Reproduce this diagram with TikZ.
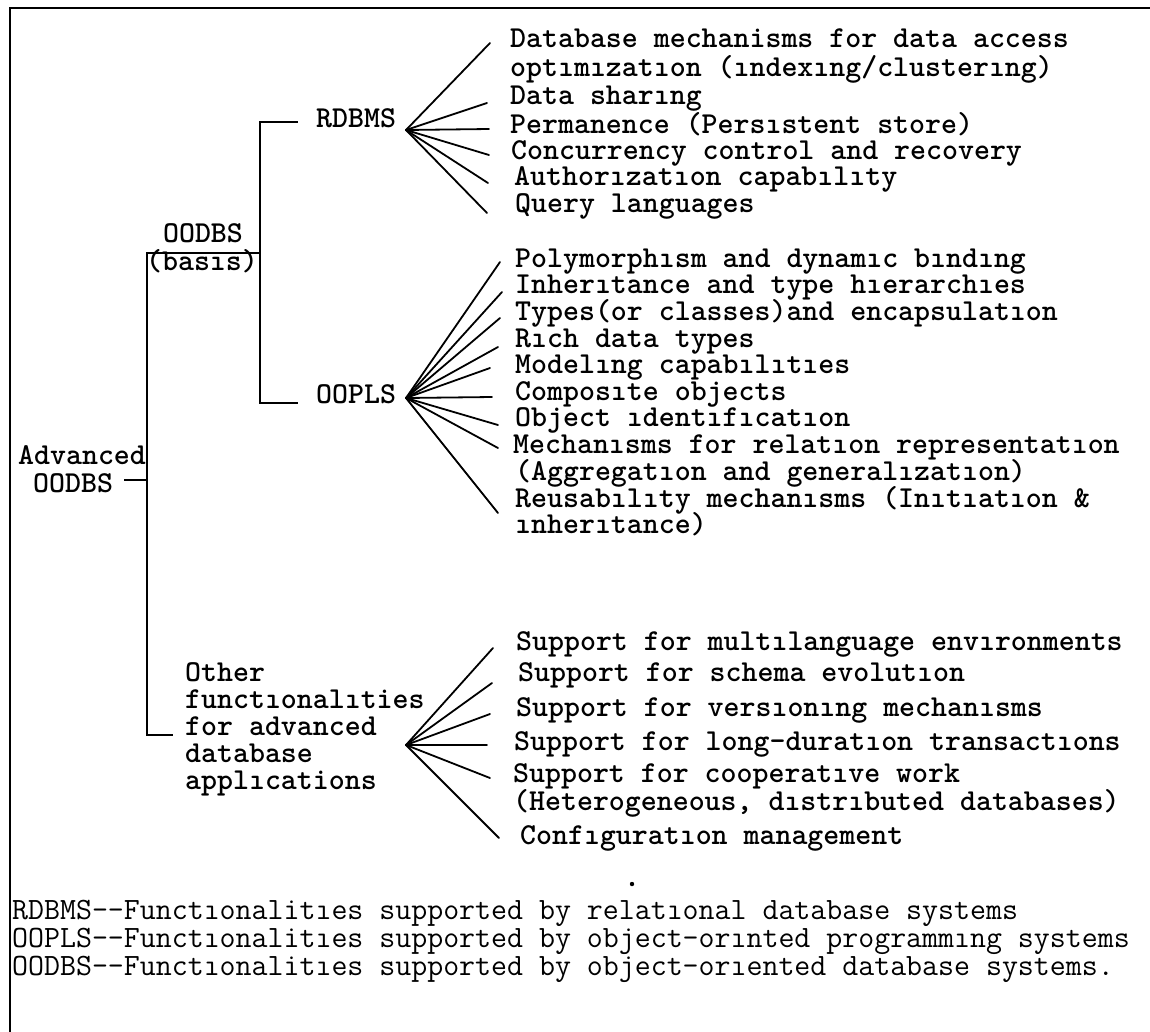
\documentclass[tikz,border=0pt]{standalone}
\usepackage{fontspec}
\newfontfamily\tw{Latin Modern Mono Light}
\newfontfamily\twl{Latin Modern Mono}
\begin{document}
\begin{tikzpicture}[x=1pt,y=-1pt,
  rule/.style={line width=1.8pt, line cap=rect},
  link/.style={line width=1.8pt, line cap=round},
  item/.style={anchor=mid west, inner sep=0pt, text height=0.6em, text depth=0.12em,
    font=\tw\bfseries\fontsize{30.4}{31}\selectfont},
  head/.style={item, anchor=mid},
  note/.style={anchor=mid west, inner sep=0pt, text height=0.6em, text depth=0.12em,
    font=\twl\fontsize{31}{31}\selectfont}]
\useasboundingbox (0,0) rectangle (1150,1031);
\fill[white] (0,0) rectangle (1150,1031);

% frame (top and left edges)
\coordinate (fTR) at (1150,8);
\coordinate (fTL) at (10,8);
\coordinate (fBL) at (10,1031);
\draw[rule] (fTR) -- (fTL) -- (fBL);

% root
\node[item] (adv1) at (18,462) {Advanced};
\node[item] (adv2) at (33,490) {OODBS};
\coordinate (advTick) at (125,480);
\coordinate (spine) at (147,480);
\draw[rule] (advTick) -- (spine);

% main spine with the two branches
\coordinate (sTop) at (147,253);
\coordinate (sBot) at (147,735);
\coordinate (basisEnd) at (260,253);
\coordinate (otherTick) at (172,735);
\draw[rule] (basisEnd) -- (sTop) -- (sBot) -- (otherTick);
\node[head] (oodbs) at (203,240) {OODBS};
\node[head] (basis) at (202,268) {(basıs)};

% OODBS basis bracket
\coordinate (bTop) at (260,122);
\coordinate (bBot) at (260,403);
\coordinate (rTick) at (297,122);
\coordinate (oTick) at (297,403);
\draw[rule] (rTick) -- (bTop) -- (bBot) -- (oTick);
\node[item] (rdbms) at (316,125) {RDBMS};
\node[item] (oopls) at (316,401) {OOPLS};

% other functionalities
\node[item] (oth1) at (185,679) {Other};
\node[item] (oth2) at (185,706) {functıonalıties};
\node[item] (oth3) at (185,733) {for advanced};
\node[item] (oth4) at (185,760) {database};
\node[item] (oth5) at (185,787) {applıcations};

% RDBMS features
\node[item] (r1a) at (510,45) {Database mechanisms for data access};
\node[item] (r1b) at (510,74) {optımızatıon (ındexıng/clusterıng)};
\node[item] (r2) at (510,102) {Data sharıng};
\node[item] (r3) at (510,131) {Permanence (Persıstent store)};
\node[item] (r4) at (511,157) {Concurrency control and recovery};
\node[item] (r5) at (514,183) {Authorızatıon capabılıty};
\node[item] (r6) at (515,210) {Query languages};

\coordinate (rFan) at (406,130);
\coordinate (re1) at (490,43);
\coordinate (re2) at (487,103);
\coordinate (re3) at (489,129);
\coordinate (re4) at (489,155);
\coordinate (re5) at (488,183);
\coordinate (re6) at (487,213);
\foreach \e in {re1,re2,re3,re4,re5,re6} \draw[link] (rFan) -- (\e);

% OOPLS features
\node[item] (p1) at (515,265) {Polymorphısm and dynamıc bındıng};
\node[item] (p2) at (515,291) {Inherıtance and type hıerarchıes};
\node[item] (p3) at (515,318) {Types(or classes)and encapsulatıon};
\node[item] (p4) at (515,345) {Rıch data types};
\node[item] (p5) at (515,371) {Modelıng capabılıtıes};
\node[item] (p6) at (515,398) {Composıte objects};
\node[item] (p7) at (515,424) {Object ıdentıfıcatıon};
\node[item] (p8a) at (513,451) {Mechanısms for relatıon representatıon};
\node[item] (p8b) at (515,478) {(Aggregatıon and generalızatıon)};
\node[item] (p9a) at (515,505) {Reusabılıty mechanısms (Inıtıatıon \&};
\node[item] (p9b) at (515,531) {ınherıtance)};

\coordinate (pFan) at (406,398);
\coordinate (pe1) at (500,262);
\coordinate (pe2) at (502,292);
\coordinate (pe3) at (500,318);
\coordinate (pe4) at (498,347);
\coordinate (pe5) at (490,368);
\coordinate (pe6) at (492,397);
\coordinate (pe7) at (498,425);
\coordinate (pe8) at (498,448);
\coordinate (pe9) at (498,513);
\foreach \e in {pe1,pe2,pe3,pe4,pe5,pe6,pe7,pe8,pe9} \draw[link] (pFan) -- (\e);

% advanced application features
\node[item] (a1) at (516,648) {Support for multılanguage envıronments};
\node[item] (a2) at (518,679) {Support for schema evolutıon};
\node[item] (a3) at (516,714) {Support for versıonıng mechanısms};
\node[item] (a4) at (514,748) {Support for long-duratıon transactıons};
\node[item] (a5a) at (513,780) {Support for cooperatıve work};
\node[item] (a5b) at (513,808) {(Heterogeneous, dıstrıbuted databases)};
\node[item] (a6) at (520,842) {Confıguratıon management};

\coordinate (aFan) at (406,745);
\coordinate (ae1) at (493,648);
\coordinate (ae2) at (492,683);
\coordinate (ae3) at (490,714);
\coordinate (ae4) at (487,745);
\coordinate (ae5) at (490,778);
\coordinate (ae6) at (499,838);
\foreach \e in {ae1,ae2,ae3,ae4,ae5,ae6} \draw[link] (aFan) -- (\e);

\fill (632,884) circle (2.2);

% legend
\node[note] (k1) at (12,917) {RDBMS-{}-Functıonalitıes supported by relatıonal database systems};
\node[note] (k2) at (12,945) {OOPLS-{}-Functıonalitıes supported by object-orınted programmıng systems};
\node[note] (k3) at (12,973) {OODBS-{}-Functıonalitıes supported by object-orıented database systems.};
\end{tikzpicture}
\end{document}
